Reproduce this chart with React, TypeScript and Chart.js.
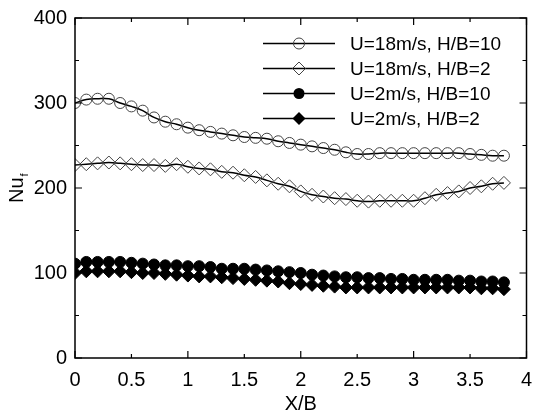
import { useEffect, useRef } from 'react';
import { Chart, registerables } from 'chart.js';

Chart.register(...registerables);

const FONT = "'Liberation Sans', Arial, sans-serif";

const xValues = [
  0, 0.1, 0.2, 0.3, 0.4, 0.5, 0.6, 0.7, 0.8, 0.9,
  1.0, 1.1, 1.2, 1.3, 1.4, 1.5, 1.6, 1.7, 1.8, 1.9,
  2.0, 2.1, 2.2, 2.3, 2.4, 2.5, 2.6, 2.7, 2.8, 2.9,
  3.0, 3.1, 3.2, 3.3, 3.4, 3.5, 3.6, 3.7, 3.8,
];

const nuU18H10 = [
  300, 304, 305, 305, 300, 296, 291, 283, 278, 275,
  271, 268, 266, 264, 262, 260, 259, 258, 255, 253,
  251, 249, 247, 245, 242, 240, 240, 241, 241, 241,
  241, 241, 241, 241, 241, 240, 239, 238, 238,
];

const nuU18H2 = [
  227, 228, 229, 230, 229, 228, 227, 227, 226, 228,
  225, 223, 222, 219, 218, 215, 213, 209, 205, 202,
  196, 192, 190, 188, 187, 185, 184, 185, 185, 185,
  185, 188, 192, 194, 196, 200, 202, 205, 206,
];

const nuU2H10 = [
  111, 113, 113, 113, 113, 112, 111, 110, 109, 109,
  108, 108, 107, 105, 105, 105, 104, 103, 102, 101,
  100, 98, 97, 96, 95, 95, 94, 94, 93, 93,
  92, 92, 92, 92, 91, 91, 90, 90, 89,
];

const nuU2H2 = [
  100, 102, 102, 102, 102, 101, 100, 100, 99, 98,
  97, 96, 96, 95, 94, 93, 92, 91, 90, 88,
  87, 86, 85, 84, 83, 83, 83, 83, 83, 83,
  83, 83, 83, 83, 83, 83, 82, 82, 81,
];

const seriesLabels = [
  'U=18m/s, H/B=10',
  'U=18m/s, H/B=2',
  'U=2m/s, H/B=10',
  'U=2m/s, H/B=2',
];

const seriesValues = [nuU18H10, nuU18H2, nuU2H10, nuU2H2];
const seriesMarkers = ['circle', 'rectRot', 'circle', 'rectRot'];
const seriesFilled = [false, false, true, true];

function drawMarker(ctx: CanvasRenderingContext2D, style: string, filled: boolean, x: number, y: number, r: number) {
  ctx.beginPath();
  if (style === 'circle') {
    ctx.arc(x, y, r, 0, Math.PI * 2);
  } else {
    ctx.moveTo(x, y - r);
    ctx.lineTo(x + r, y);
    ctx.lineTo(x, y + r);
    ctx.lineTo(x - r, y);
    ctx.closePath();
  }
  if (filled) {
    ctx.fillStyle = '#000';
    ctx.fill();
  } else {
    ctx.strokeStyle = '#444';
    ctx.lineWidth = 1;
    ctx.stroke();
  }
}

const framePlugin = {
  id: 'frameAndLegend',
  afterDraw(chart: any) {
    const { ctx, chartArea } = chart;
    const { left, right, top, bottom } = chartArea;
    const xs = chart.scales.x;
    const ys = chart.scales.y;
    ctx.save();
    ctx.strokeStyle = '#000';
    ctx.lineWidth = 1.5;
    ctx.strokeRect(left, top, right - left, bottom - top);
    ctx.lineWidth = 1.2;
    ctx.beginPath();
    for (const t of xs.ticks) {
      const px = xs.getPixelForValue(t.value);
      const len = Math.abs(t.value - Math.round(t.value)) < 1e-6 ? 7 : 4;
      ctx.moveTo(px, bottom);
      ctx.lineTo(px, bottom - len);
      ctx.moveTo(px, top);
      ctx.lineTo(px, top + len);
    }
    for (const t of ys.ticks) {
      const py = ys.getPixelForValue(t.value);
      const len = t.value % 100 === 0 ? 7 : 4;
      ctx.moveTo(left, py);
      ctx.lineTo(left + len, py);
      ctx.moveTo(right, py);
      ctx.lineTo(right - len, py);
    }
    ctx.stroke();

    // Legend
    const legX0 = 263;
    const legX1 = 335;
    const legMid = 299;
    const textX = 350;
    const rowY = [43.5, 68.5, 93.5, 118.5];
    ctx.font = `19px ${FONT}`;
    ctx.textBaseline = 'middle';
    ctx.textAlign = 'left';
    seriesLabels.forEach((label, i) => {
      const y = rowY[i];
      ctx.strokeStyle = '#000';
      ctx.lineWidth = 1.3;
      ctx.beginPath();
      ctx.moveTo(legX0, y);
      ctx.lineTo(legX1, y);
      ctx.stroke();
      drawMarker(ctx, seriesMarkers[i], seriesFilled[i], legMid, y, seriesMarkers[i] === 'circle' ? 5.5 : 6.5);
      ctx.fillStyle = '#000';
      ctx.fillText(label, textX, y + 1);
    });

    // Y-axis title Nu with subscript f
    ctx.translate(23, 203);
    ctx.rotate(-Math.PI / 2);
    ctx.fillStyle = '#000';
    ctx.textBaseline = 'alphabetic';
    ctx.font = `20px ${FONT}`;
    ctx.fillText('Nu', 0, 0);
    const w = ctx.measureText('Nu').width;
    ctx.font = `11px ${FONT}`;
    ctx.fillText('f', w + 1, 5);
    ctx.restore();
  },
};

export default function App() {
  const canvasRef = useRef<HTMLCanvasElement | null>(null);

  useEffect(() => {
    if (!canvasRef.current) return;
    const datasets = seriesLabels.map((label, i) => ({
      label,
      data: xValues.map((x, j) => ({ x, y: seriesValues[i][j] })),
      borderColor: '#000',
      borderWidth: 1.5,
      tension: 0.4,
      pointStyle: seriesMarkers[i],
      pointRadius: seriesMarkers[i] === 'circle' ? 5.5 : 6.5,
      pointBorderWidth: 1,
      pointBorderColor: seriesFilled[i] ? '#000' : '#444',
      pointBackgroundColor: seriesFilled[i] ? '#000' : 'rgba(0,0,0,0)',
      fill: false,
    }));

    const chart = new Chart(canvasRef.current, {
      type: 'line',
      data: { datasets },
      plugins: [framePlugin],
      options: {
        animation: false,
        responsive: false,
        maintainAspectRatio: false,
        layout: { padding: { top: 18, right: 7, left: 0, bottom: 0 } },
        plugins: {
          legend: { display: false },
          tooltip: { enabled: false },
        },
        scales: {
          x: {
            type: 'linear',
            min: 0,
            max: 4,
            grid: { display: false, drawTicks: false },
            border: { display: false },
            ticks: {
              stepSize: 0.5,
              color: '#000',
              padding: 10,
              maxRotation: 0,
              font: { family: FONT, size: 20 },
              callback: (v: any) => String(Number(v)),
            },
            title: {
              display: true,
              text: 'X/B',
              color: '#000',
              font: { family: FONT, size: 20 },
              padding: { top: 0, bottom: 0 },
            },
            afterFit: (scale: any) => {
              scale.height = 58;
              scale.paddingLeft = 0;
              scale.paddingRight = 0;
            },
          },
          y: {
            type: 'linear',
            min: 0,
            max: 400,
            grid: { display: false, drawTicks: false },
            border: { display: false },
            ticks: {
              stepSize: 50,
              color: '#000',
              padding: 8,
              font: { family: FONT, size: 20 },
              callback: (v: any) => (Number(v) % 100 === 0 ? String(v) : ''),
            },
            afterFit: (scale: any) => {
              scale.width = 75;
              scale.paddingTop = 0;
              scale.paddingBottom = 0;
            },
          },
        },
      } as any,
    });
    return () => chart.destroy();
  }, []);

  return (
    <div style={{ position: 'fixed', left: 0, top: 0, width: 534, height: 416, background: '#fff' }}>
      <canvas ref={canvasRef} width={534} height={416} style={{ width: 534, height: 416, display: 'block' }} />
    </div>
  );
}
